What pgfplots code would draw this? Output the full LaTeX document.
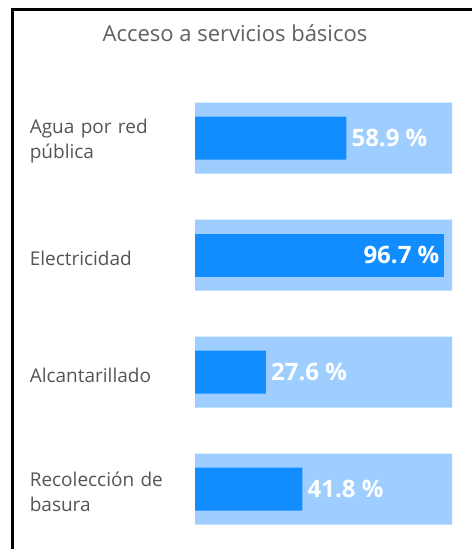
\documentclass[border=0pt]{standalone}
\usepackage{pgfplots}
\pgfplotsset{compat=1.18}
\usepackage{fontspec}
\setmainfont{Open Sans}
\definecolor{darkbar}{HTML}{118DFF}
\definecolor{lightbar}{HTML}{9ECEFF}
\definecolor{labelgray}{HTML}{555555}
\definecolor{titlegray}{HTML}{606060}
\tikzset{valuelabel/.style={text=white, font=\bfseries\fontsize{24bp}{28bp}\selectfont, inner sep=0pt}}
\begin{document}
\begin{tikzpicture}
\useasboundingbox (0,0) rectangle (472bp,-549bp);
\fill[white] (0,0) rectangle (472bp,-549bp);
\draw[black, line width=3bp] (12bp,-560bp) -- (12bp,-9.5bp) -- (480bp,-9.5bp);
\node[text=titlegray, font=\fontsize{22bp}{26bp}\selectfont] at (235bp,-33bp) {Acceso a servicios básicos};
\begin{axis}[
  at={(195bp,-79.5bp)}, anchor=north west,
  scale only axis, width=257bp, height=468bp,
  xmin=0, xmax=100, ymin=-0.5, ymax=3.5,
  y dir=reverse,
  axis line style={draw=none},
  tick style={draw=none},
  xtick=\empty,
  ytick={0,1,2,3},
  yticklabels={{Agua por red\\pública},{Electricidad},{Alcantarillado},{Recolección de\\basura}},
  yticklabel style={text width=160bp, align=left, inner sep=0pt, xshift=-5bp, yshift=-3bp,
    text=labelgray, font=\fontsize{19bp}{25bp}\selectfont},
  /pgf/number format/assume math mode=true,
  clip=false,
]
% background (100 %)
\addplot[xbar, bar shift=0pt, bar width=71bp, fill=lightbar, draw=none]
  coordinates {(100,0) (100,1) (100,2) (100,3)};
% values with label outside the bar end
\addplot[xbar, bar shift=0pt, bar width=43bp, fill=darkbar, draw=none,
  point meta=x,
  nodes near coords={\pgfmathprintnumber[fixed,precision=1,fixed zerofill]{\pgfplotspointmeta} \%},
  every node near coord/.append style={valuelabel, anchor=west, xshift=5bp},
] coordinates {(58.9,0) (27.6,2) (41.8,3)};
% value with label inside the bar end
\addplot[xbar, bar shift=0pt, bar width=43bp, fill=darkbar, draw=none,
  point meta=x,
  nodes near coords={\pgfmathprintnumber[fixed,precision=1,fixed zerofill]{\pgfplotspointmeta} \%},
  every node near coord/.append style={valuelabel, anchor=east, xshift=-4bp},
] coordinates {(96.7,1)};
\end{axis}
\end{tikzpicture}
\end{document}
